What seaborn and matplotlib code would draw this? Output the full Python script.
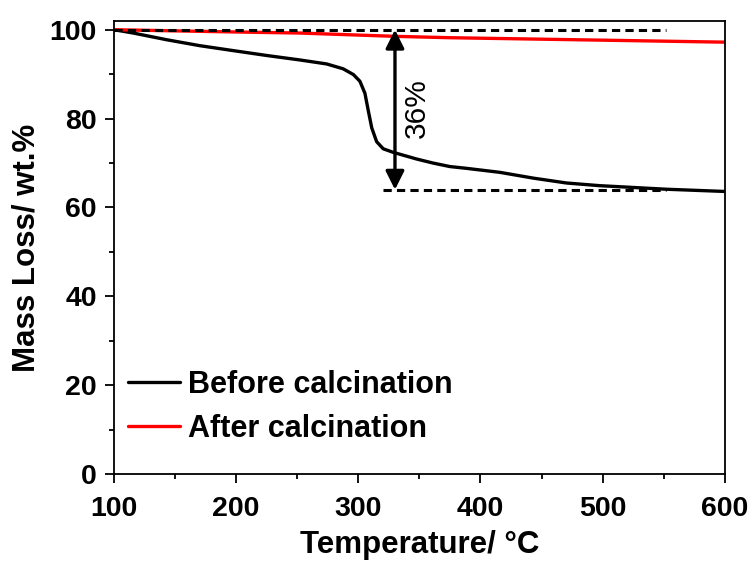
import matplotlib
matplotlib.use("Agg")
import matplotlib.pyplot as plt
import seaborn as sns
import pandas as pd
from matplotlib.ticker import MultipleLocator

# ---- data ----
before_T = [100, 115.8, 143, 170.4, 197.5, 225, 252, 274, 287.6, 296, 301.3, 305.4,
            308, 311, 315, 320.4, 328.6, 347.7, 361, 375, 388.6, 415.9, 443.2,
            470.5, 497.7, 525, 552, 600]
before_m = [100, 99.25, 97.75, 96.4, 95.3, 94.2, 93.2, 92.3, 91.2, 89.9, 88.4, 85.7,
            82.0, 77.9, 74.8, 73.2, 72.4, 70.9, 70.0, 69.2, 68.8, 67.9, 66.6,
            65.5, 64.9, 64.5, 64.1, 63.6]
after_T = [100, 197.5, 252, 331, 375, 443, 600]
after_m = [100, 99.5, 99.25, 98.5, 98.2, 97.9, 97.2]
series_names = ["Before calcination", "After calcination"]

upper_ref = 100.0
lower_ref = 64.0
upper_ref_span = [100, 552]
lower_ref_span = [320, 552]
arrow_T = 330
loss_label = "36%"

df = pd.concat([
    pd.DataFrame({"T": before_T, "m": before_m, "s": series_names[0]}),
    pd.DataFrame({"T": after_T, "m": after_m, "s": series_names[1]}),
])

sns.set_theme(style="white")
plt.rcParams['font.family'] = ['Liberation Sans', 'DejaVu Sans']
plt.rcParams.update({"text.color": "black", "axes.labelcolor": "black",
                     "xtick.color": "black", "ytick.color": "black",
                     "axes.edgecolor": "black"})

fig = plt.figure(figsize=(7.55, 5.63), dpi=100)
ax = fig.add_axes([0.151, 0.158, 0.809, 0.805])

sns.lineplot(data=df, x="T", y="m", hue="s", palette=["black", "red"],
             linewidth=2.4, ax=ax, legend=True, sort=False)

# dashed reference lines
ax.plot(upper_ref_span, [upper_ref, upper_ref], color="black", lw=2.2,
        dashes=(2.7, 1.7))
ax.plot(lower_ref_span, [lower_ref, lower_ref], color="black", lw=2.2,
        dashes=(2.7, 1.7))

ax.annotate("", xy=(arrow_T, upper_ref), xytext=(arrow_T, lower_ref),
            arrowprops=dict(arrowstyle="<|-|>", lw=2.4, color="black",
                            mutation_scale=28, shrinkA=0, shrinkB=0))
ax.text(348, 82.4, loss_label, rotation=90, fontsize=21.5,
        ha="center", va="center")

ax.set_xlim(100, 600)
ax.set_ylim(0, 102)
ax.xaxis.set_major_locator(MultipleLocator(100))
ax.xaxis.set_minor_locator(MultipleLocator(50))
ax.yaxis.set_major_locator(MultipleLocator(20))
ax.yaxis.set_minor_locator(MultipleLocator(10))
ax.tick_params(which="major", direction="out", length=6.5, width=1.3,
               labelsize=20.5, bottom=True, left=True, top=False, right=False, pad=6)
ax.tick_params(axis="x", which="major", pad=9)
ax.tick_params(which="minor", direction="out", length=3.5, width=1.3,
               bottom=True, left=True, top=False, right=False)
for lab in ax.get_xticklabels() + ax.get_yticklabels():
    lab.set_fontweight("bold")
for sp in ax.spines.values():
    sp.set_linewidth(1.3)

ax.set_xlabel("Temperature/ °C", fontsize=22.5, fontweight="bold", labelpad=6)
ax.set_ylabel("Mass Loss/ wt.%", fontsize=22.5, fontweight="bold", labelpad=6)

leg = ax.legend(loc="lower left", bbox_to_anchor=(-0.012, 0.019), frameon=False,
                prop={"size": 22, "weight": "bold"}, handlelength=1.7,
                handletextpad=0.25, labelspacing=0.46, borderaxespad=0.3)
for h in leg.get_lines():
    h.set_linewidth(2.4)

fig.savefig("out.png", dpi=100)
